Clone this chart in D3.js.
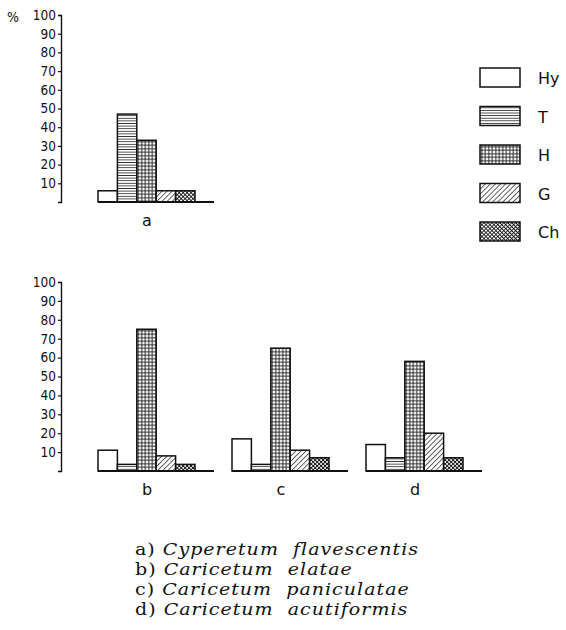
<!DOCTYPE html>
<html>
<head>
<meta charset="utf-8">
<script src="https://cdn.jsdelivr.net/npm/d3@7"></script>
<style>
body { margin: 0; background: #fff; }
svg text { fill: #111; }
.tick text { font-family: "DejaVu Sans Condensed", "DejaVu Sans", sans-serif; font-stretch: condensed; font-size: 13.5px; }
</style>
</head>
<body>
<script>
var forms = ["Hy", "T", "H", "G", "Ch"];
var groupsTop = ["a"];
var groupsBottom = ["b", "c", "d"];
var valuesA = [6, 47, 33, 6, 6];
var valuesB = [11, 3.5, 75, 8, 3.5];
var valuesC = [17, 3.5, 65, 11, 7];
var valuesD = [14, 7, 58, 20, 7];
var tickValues = [10, 20, 30, 40, 50, 60, 70, 80, 90, 100];
var captionLetters = ["a)", "b)", "c)", "d)"];
var captionNames = ["Cyperetum  flavescentis", "Caricetum  elatae", "Caricetum  paniculatae", "Caricetum  acutiformis"];

var w = 566, h = 630;
var ink = "#111";

var svg = d3.select("body")
    .append("svg")
    .attr("width", w)
    .attr("height", h);

// hatch patterns for the life forms
var defs = svg.append("defs");

var pT = defs.append("pattern").attr("id", "pT")
    .attr("patternUnits", "userSpaceOnUse").attr("width", 6).attr("height", 2.6);
pT.append("rect").attr("width", 6).attr("height", 2.6).attr("fill", "#fff");
pT.append("line").attr("x1", 0).attr("x2", 6).attr("y1", 1.3).attr("y2", 1.3)
    .attr("stroke", ink).attr("stroke-width", 0.8);

var pH = defs.append("pattern").attr("id", "pH")
    .attr("patternUnits", "userSpaceOnUse").attr("width", 3.5).attr("height", 3.5);
pH.append("rect").attr("width", 3.5).attr("height", 3.5).attr("fill", "#fff");
pH.append("path").attr("d", "M0,1.75H3.5M1.75,0V3.5")
    .attr("stroke", ink).attr("stroke-width", 0.9);

var pG = defs.append("pattern").attr("id", "pG")
    .attr("patternUnits", "userSpaceOnUse").attr("width", 3.6).attr("height", 3.6)
    .attr("patternTransform", "rotate(45)");
pG.append("rect").attr("width", 3.6).attr("height", 3.6).attr("fill", "#fff");
pG.append("line").attr("x1", 0).attr("x2", 0).attr("y1", 0).attr("y2", 3.6)
    .attr("stroke", ink).attr("stroke-width", 1.3);

var pCh = defs.append("pattern").attr("id", "pCh")
    .attr("patternUnits", "userSpaceOnUse").attr("width", 2.8).attr("height", 2.8)
    .attr("patternTransform", "rotate(45)");
pCh.append("rect").attr("width", 2.8).attr("height", 2.8).attr("fill", "#fff");
pCh.append("path").attr("d", "M0,0H2.8M0,0V2.8")
    .attr("stroke", ink).attr("stroke-width", 1.7);

var fills = {Hy: "#fff", T: "url(#pT)", H: "url(#pH)", G: "url(#pG)", Ch: "url(#pCh)"};

var xInner = d3.scaleBand().domain(forms).range([0, 97]);

function panel(groups, valueSets, yTop, yBase) {
    var yScale = d3.scaleLinear().domain([0, 100]).range([yBase, yTop]);
    var xGroup = d3.scaleBand().domain(groups).range([98, 98 + 134 * groups.length]);

    var yAxis = d3.axisLeft(yScale)
        .tickValues(tickValues)
        .tickSize(3)
        .tickSizeOuter(3)
        .tickPadding(2);

    var ax = svg.append("g")
        .attr("transform", "translate(61,0)")
        .call(yAxis);
    ax.select(".domain").attr("stroke", ink).attr("stroke-width", 1.4);
    ax.selectAll(".tick line").attr("stroke", ink).attr("stroke-width", 1.2);

    groups.forEach(function(g, gi) {
        var gx = xGroup(g);
        var grp = svg.append("g").attr("transform", "translate(" + gx + ",0)");

        grp.selectAll("rect")
            .data(valueSets[gi])
            .enter()
            .append("rect")
            .attr("x", function(d, i) { return xInner(forms[i]); })
            .attr("y", function(d) { return yScale(d); })
            .attr("width", xInner.bandwidth())
            .attr("height", function(d) { return yBase - yScale(d); })
            .attr("fill", function(d, i) { return fills[forms[i]]; })
            .attr("stroke", ink)
            .attr("stroke-width", 1.5);

        grp.append("line")
            .attr("x1", 0).attr("x2", 116)
            .attr("y1", yBase).attr("y2", yBase)
            .attr("stroke", ink).attr("stroke-width", 1.8);

        grp.append("text")
            .attr("x", 49)
            .attr("y", yBase + 24)
            .attr("text-anchor", "middle")
            .style("font-family", "'DejaVu Sans', sans-serif")
            .style("font-size", "16px")
            .text(g);
    });
}

panel(groupsTop, [valuesA], 15, 202);
panel(groupsBottom, [valuesB, valuesC, valuesD], 282, 471);

svg.append("text")
    .attr("x", 7).attr("y", 22)
    .style("font-family", "'DejaVu Sans Condensed', 'DejaVu Sans', sans-serif")
    .style("font-size", "14px")
    .text("%");

// legend
var legend = svg.append("g").selectAll("g")
    .data(forms)
    .enter()
    .append("g")
    .attr("transform", function(d, i) { return "translate(480," + (68 + i * 38.5) + ")"; });

legend.append("rect")
    .attr("width", 40).attr("height", 19)
    .attr("fill", function(d) { return fills[d]; })
    .attr("stroke", ink).attr("stroke-width", 1.5);

legend.append("text")
    .attr("x", 58).attr("y", 16)
    .style("font-family", "'DejaVu Sans', sans-serif")
    .style("font-size", "16px")
    .text(function(d) { return d; });

// captions (slab serif in the original, so widen DejaVu Serif a little)
var cap = svg.append("g")
    .attr("transform", "translate(135,0) scale(1.12,1)")
    .selectAll("text")
    .data(captionNames)
    .enter()
    .append("text")
    .attr("x", 0)
    .attr("y", function(d, i) { return 555 + i * 20; })
    .attr("xml:space", "preserve")
    .style("white-space", "pre")
    .style("font-family", "'DejaVu Serif', serif")
    .style("font-size", "17px")
    .style("letter-spacing", "0.9px");

cap.append("tspan").text(function(d, i) { return captionLetters[i] + " "; });
cap.append("tspan").style("font-style", "italic").text(function(d) { return d; });
</script>
</body>
</html>
